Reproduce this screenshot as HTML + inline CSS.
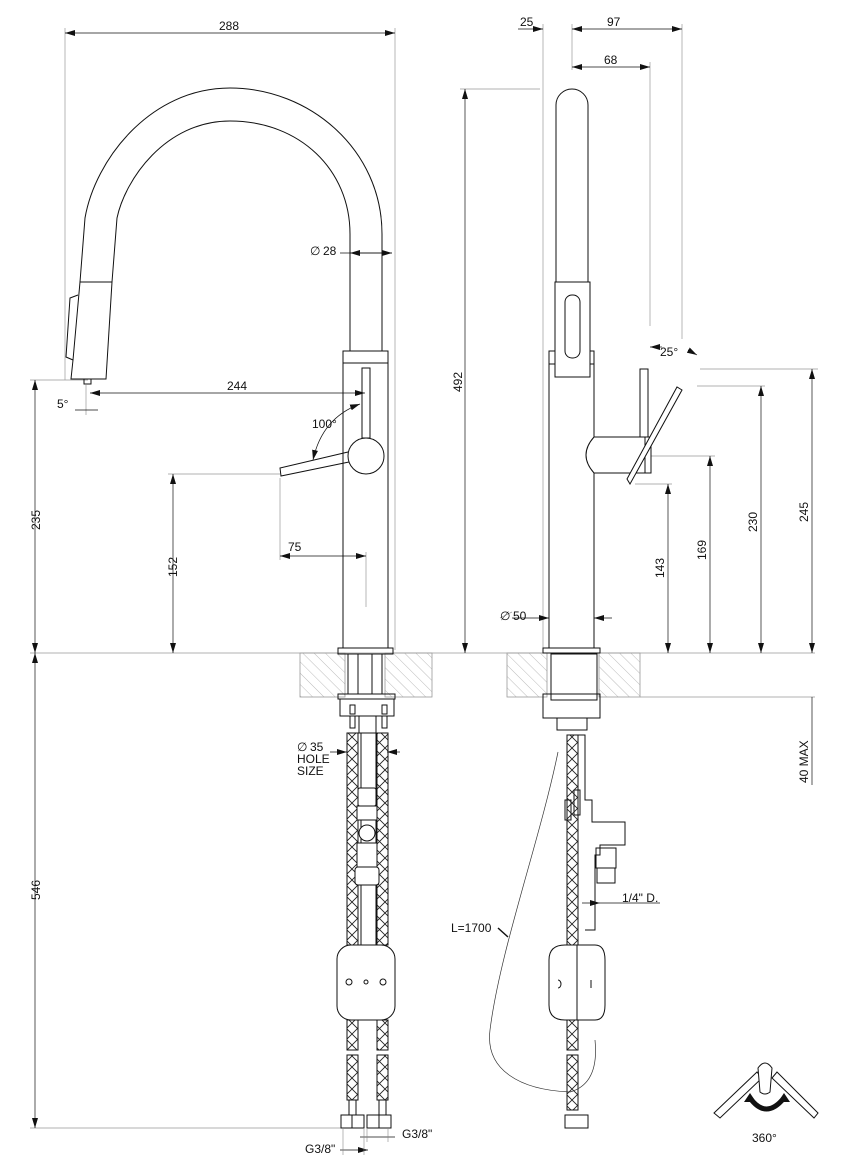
<!DOCTYPE html>
<html><head><meta charset="utf-8"><style>
html,body{margin:0;padding:0;background:#fff;}
svg{display:block;}
text{font-family:"Liberation Sans",sans-serif;font-size:12px;fill:#111;}
</style></head><body>
<svg width="842" height="1164" viewBox="0 0 842 1164" xmlns="http://www.w3.org/2000/svg">
<defs>
<pattern id="hatch" width="8" height="8" patternUnits="userSpaceOnUse" patternTransform="rotate(-45)">
<line x1="0" y1="0" x2="0" y2="8" stroke="#aaa" stroke-width="0.8"/>
</pattern>
<pattern id="braid" width="11" height="11" patternUnits="userSpaceOnUse">
<path d="M0,0 L11,11 M11,0 L0,11" stroke="#222" stroke-width="0.9" fill="none"/>
</pattern>
<marker id="ar" markerWidth="10" markerHeight="6" refX="10" refY="3" orient="auto-start-reverse" markerUnits="userSpaceOnUse">
<path d="M0,0 L10,3 L0,6 z" fill="#111"/>
</marker>
</defs>
<g stroke="#999" stroke-width="0.7" fill="none">
<line x1="65" y1="28" x2="65" y2="380"/>
<line x1="395" y1="28" x2="395" y2="650"/>
<line x1="30" y1="380" x2="88" y2="380"/>
<line x1="168" y1="474" x2="280" y2="474"/>
<line x1="280" y1="478" x2="280" y2="560"/>
<line x1="366" y1="552" x2="366" y2="607"/>
<line x1="86" y1="385" x2="86" y2="415"/>
<line x1="30" y1="653" x2="815" y2="653"/>
<line x1="640" y1="697" x2="815" y2="697"/>
<line x1="30" y1="1128" x2="345" y2="1128"/>
<line x1="543" y1="24" x2="543" y2="653"/>
<line x1="572" y1="24" x2="572" y2="70"/>
<line x1="682" y1="24" x2="682" y2="339"/>
<line x1="650" y1="62" x2="650" y2="326"/>
<line x1="460" y1="89" x2="540" y2="89"/>
<line x1="700" y1="369" x2="818" y2="369"/>
<line x1="697" y1="386" x2="765" y2="386"/>
<line x1="650" y1="456" x2="715" y2="456"/>
<line x1="635" y1="484" x2="672" y2="484"/>
<line x1="500" y1="618" x2="512" y2="612"/>
</g>
<g stroke="#111" stroke-width="0.7" fill="none">
<line x1="65" y1="33" x2="395" y2="33" marker-start="url(#ar)" marker-end="url(#ar)"/>
<line x1="90" y1="393" x2="365" y2="393" marker-start="url(#ar)" marker-end="url(#ar)"/>
<line x1="35" y1="380" x2="35" y2="653" marker-start="url(#ar)" marker-end="url(#ar)"/>
<line x1="35" y1="653" x2="35" y2="1128" marker-start="url(#ar)" marker-end="url(#ar)"/>
<line x1="173" y1="474" x2="173" y2="653" marker-start="url(#ar)" marker-end="url(#ar)"/>
<line x1="280" y1="556" x2="366" y2="556" marker-start="url(#ar)" marker-end="url(#ar)"/>
<line x1="340" y1="253" x2="392" y2="253" marker-end="url(#ar)"/>
<line x1="392" y1="253" x2="350" y2="253" marker-end="url(#ar)"/>
<path d="M313,460 Q322,418 360,404" marker-start="url(#ar)" marker-end="url(#ar)"/>
<line x1="75" y1="410" x2="98" y2="410"/>
<line x1="518" y1="29" x2="543" y2="29" marker-end="url(#ar)"/>
<line x1="572" y1="29" x2="682" y2="29" marker-start="url(#ar)" marker-end="url(#ar)"/>
<line x1="572" y1="67" x2="650" y2="67" marker-start="url(#ar)" marker-end="url(#ar)"/>
<line x1="465" y1="89" x2="465" y2="653" marker-start="url(#ar)" marker-end="url(#ar)"/>
<line x1="668" y1="484" x2="668" y2="653" marker-start="url(#ar)" marker-end="url(#ar)"/>
<line x1="710" y1="456" x2="710" y2="653" marker-start="url(#ar)" marker-end="url(#ar)"/>
<line x1="761" y1="386" x2="761" y2="653" marker-start="url(#ar)" marker-end="url(#ar)"/>
<line x1="812" y1="369" x2="812" y2="653" marker-start="url(#ar)" marker-end="url(#ar)"/>
<line x1="812" y1="697" x2="812" y2="785"/>
<line x1="512" y1="618" x2="549" y2="618" marker-end="url(#ar)"/>
<line x1="612" y1="618" x2="594" y2="618" marker-end="url(#ar)"/>
<line x1="650" y1="347" x2="662" y2="347" marker-start="url(#ar)"/>
<line x1="688" y1="350" x2="697" y2="355" marker-end="url(#ar)"/>
<line x1="330" y1="752" x2="347" y2="752" marker-end="url(#ar)"/>
<line x1="400" y1="752" x2="387" y2="752" marker-end="url(#ar)"/>
<line x1="340" y1="1150" x2="368" y2="1150" marker-end="url(#ar)"/>
<line x1="360" y1="1137" x2="395" y2="1137"/>
<line x1="600" y1="903" x2="660" y2="903"/>
<line x1="582" y1="903" x2="600" y2="903" marker-end="url(#ar)"/>
</g>
<g stroke="#999" stroke-width="0.8">
<rect x="300" y="653" width="45" height="44" fill="url(#hatch)"/>
<rect x="385" y="653" width="47" height="44" fill="url(#hatch)"/>
<rect x="507" y="653" width="40" height="44" fill="url(#hatch)"/>
<rect x="599" y="653" width="41" height="44" fill="url(#hatch)"/>
</g>
<g stroke="#111" stroke-width="1" fill="none">
<path d="M382,351 L382,234 C382,150 310,88 230,88 C150,88 95,160 85,218 L80,282"/>
<path d="M350,351 L350,234 C350,170 300,121 230,121 C165,121 125,180 117,218 L112,282"/>
<path d="M80,282 L112,282 L106,379 L71,379 L73,360 Z"/>
<path d="M73,360 L66,357 L70,298 L78,295"/>
<rect x="84" y="379" width="7" height="5"/>
<rect x="343" y="351" width="45" height="297"/>
<line x1="343" y1="363" x2="388" y2="363"/>
<rect x="338" y="648" width="55" height="6"/>
<rect x="362" y="368" width="8" height="70"/>
<ellipse cx="366" cy="456" rx="18" ry="18" fill="#fff"/>
<path d="M348,452 L280,468 L281,476 L349,462"/>
<rect x="348" y="654" width="34" height="40"/>
<line x1="358" y1="654" x2="358" y2="694"/><line x1="372" y1="654" x2="372" y2="694"/>
<rect x="338" y="694" width="57" height="5"/>
<rect x="340" y="699" width="54" height="17"/>
<rect x="350" y="705" width="5" height="9"/><rect x="382" y="705" width="5" height="9"/>
<rect x="350" y="716" width="5" height="12"/><rect x="382" y="716" width="5" height="12"/>
<rect x="359" y="716" width="17" height="17"/>
</g>
<g stroke="#111" stroke-width="1">
<rect x="347" y="733" width="11" height="212" fill="url(#braid)"/>
<rect x="377" y="733" width="11" height="212" fill="url(#braid)"/>
<rect x="347" y="1020" width="11" height="30" fill="url(#braid)"/>
<rect x="377" y="1020" width="11" height="30" fill="url(#braid)"/>
<rect x="347" y="1055" width="11" height="45" fill="url(#braid)"/>
<rect x="377" y="1055" width="11" height="45" fill="url(#braid)"/>
</g>
<g stroke="#111" stroke-width="1" fill="#fff">
<rect x="361" y="733" width="15" height="212" fill="none"/>
<rect x="358" y="788" width="18" height="18" rx="2"/>
<rect x="357" y="806" width="20" height="14"/>
<circle cx="367" cy="833" r="8"/>
<rect x="357" y="843" width="20" height="24"/>
<rect x="355" y="867" width="24" height="18" rx="3"/>
<rect x="337" y="945" width="58" height="75" rx="14"/>
<circle cx="349" cy="982" r="3"/><circle cx="366" cy="982" r="2"/><circle cx="383" cy="982" r="3"/>
<rect x="349" y="1100" width="7" height="15"/><rect x="379" y="1100" width="7" height="15"/>
<rect x="341" y="1115" width="23" height="13"/><rect x="367" y="1115" width="24" height="13"/>
<line x1="352" y1="1115" x2="352" y2="1128"/><line x1="379" y1="1115" x2="379" y2="1128"/>
</g>
<g stroke="#888" stroke-width="0.6"><line x1="343" y1="1128" x2="343" y2="1155"/><line x1="364" y1="1128" x2="364" y2="1155"/><line x1="367" y1="1128" x2="367" y2="1142"/><line x1="388" y1="1128" x2="388" y2="1142"/></g>
<g stroke="#111" stroke-width="1" fill="none">
<path d="M556,290 L556,105 A16,16 0 0 1 588,105 L588,290"/>
<rect x="549" y="351" width="45" height="297"/>
<line x1="549" y1="364" x2="594" y2="364"/>
<rect x="555" y="282" width="35" height="95" fill="#fff"/>
<rect x="565" y="295" width="15" height="63" rx="7"/>
<rect x="543" y="648" width="57" height="5"/>
<path d="M594,437 L645,437 L645,473 L594,473 Q578,455 594,437 Z" fill="#fff"/>
<rect x="645" y="437" width="6" height="36" fill="#fff"/>
<rect x="640" y="369" width="8" height="68"/>
<path d="M627,479 L630,484 L682,390 L677,387 Z" fill="#fff"/>
<rect x="551" y="654" width="46" height="46"/>
<rect x="543" y="694" width="57" height="24"/>
<rect x="557" y="718" width="30" height="12"/>
<path d="M575,735 L585,735 L585,800 L592,800 L592,822 L625,822 L625,845 L600,845 L600,855 L595,855 L595,930 L585,930"/>
<rect x="596" y="848" width="20" height="20"/>
<rect x="597" y="868" width="18" height="15"/>
<rect x="574" y="790" width="6" height="25"/>
<rect x="565" y="800" width="6" height="20"/>
<path d="M549,960 Q549,945 565,945 L595,945 Q605,945 605,960 L605,1005 Q605,1020 595,1020 L565,1020 Q549,1020 549,1005 Z" fill="#fff"/>
<line x1="577" y1="945" x2="577" y2="1020"/>
<path d="M558,980 a3,4 0 0 1 0,8" /><line x1="591" y1="980" x2="591" y2="988"/>
<rect x="565" y="1115" width="23" height="13"/>
</g>
<g stroke="#111" stroke-width="1">
<rect x="567" y="735" width="11" height="210" fill="url(#braid)"/>
<rect x="567" y="1020" width="11" height="30" fill="url(#braid)"/>
<rect x="567" y="1055" width="11" height="55" fill="url(#braid)"/>
</g>
<path d="M558,752 C540,840 500,950 490,1030 C485,1070 520,1090 570,1092 C595,1085 597,1060 595,1040" stroke="#333" stroke-width="0.7" fill="none"/>
<line x1="498" y1="928" x2="508" y2="937" stroke="#111" stroke-width="1.5"/>
<g stroke="#111" stroke-width="1" fill="#fff">
<path d="M714,1113 L757,1072 L762,1078 L720,1118 Z"/>
<path d="M818,1113 L777,1072 L772,1078 L814,1118 Z"/>
<path d="M758,1068 Q765,1058 772,1068 L770,1092 Q765,1096 760,1092 Z"/>
</g>
<path d="M750,1098 Q766,1120 784,1098" stroke="#111" stroke-width="5" fill="none"/>
<path d="M744,1102 L750,1093 L756,1102 Z M778,1102 L784,1093 L790,1102 Z" fill="#111"/>
<text x="219" y="30">288</text>
<text x="310" y="255">∅</text><text x="323" y="255">28</text>
<text x="227" y="390">244</text>
<text x="57" y="408">5°</text>
<text x="312" y="428">100°</text>
<text x="288" y="551">75</text>
<text transform="translate(40,530) rotate(-90)">235</text>
<text transform="translate(177,577) rotate(-90)">152</text>
<text transform="translate(40,900) rotate(-90)">546</text>
<text x="520" y="26">25</text>
<text x="607" y="26">97</text>
<text x="604" y="64">68</text>
<text x="660" y="356">25°</text>
<text transform="translate(462,392) rotate(-90)">492</text>
<text transform="translate(664,578) rotate(-90)">143</text>
<text transform="translate(706,560) rotate(-90)">169</text>
<text transform="translate(757,532) rotate(-90)">230</text>
<text transform="translate(808,522) rotate(-90)">245</text>
<text transform="translate(808,783) rotate(-90)">40 MAX</text>
<text x="500" y="620">∅</text><text x="513" y="620">50</text>
<text x="297" y="751">∅</text><text x="310" y="751">35</text>
<text x="297" y="763">HOLE</text>
<text x="297" y="775">SIZE</text>
<text x="622" y="902">1/4" D.</text>
<text x="451" y="932">L=1700</text>
<text x="305" y="1153">G3/8"</text>
<text x="402" y="1138">G3/8"</text>
<text x="752" y="1142" font-size="13">360°</text>
</svg>
</body></html>
